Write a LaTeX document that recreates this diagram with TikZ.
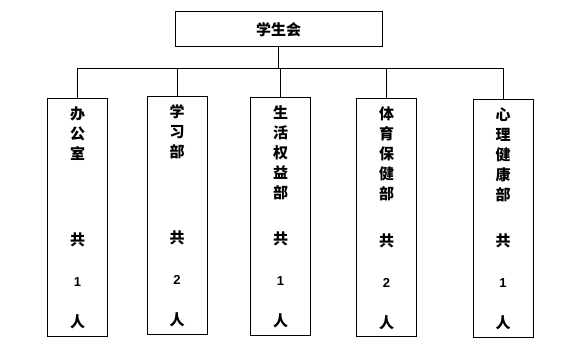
\documentclass[tikz,border=0pt]{standalone}
\usepackage{fontspec}
\newfontfamily\cjk{Noto Sans CJK SC}
\newfontfamily\numfont{Liberation Sans}
\usetikzlibrary{positioning}
\tikzset{
  head/.style={draw, line width=1pt, minimum width=207pt, minimum height=35pt, inner sep=0pt},
  dept/.style={draw, line width=1pt, minimum width=60pt, minimum height=238pt, inner sep=0pt},
  vtext/.style={align=center, inner sep=0pt},
  link/.style={line width=1pt},
}
\newcommand{\cnt}[1]{{\numfont\bfseries\fontsize{13}{20}\selectfont #1}}

\begin{document}
\begin{tikzpicture}[x=1pt, y=-1pt, every node/.append style={font=\cjk\bfseries\fontsize{15}{20}\selectfont}]
  \useasboundingbox (0,0) rectangle (580,361);
  \node[head] (su) at (278.5,29.5) {学生会};
  \node[dept] (bgs) at (77.5,217) {};
  \node[dept] (xxb) at (177,215) {};
  \node[dept] (shq) at (280.5,216) {};
  \node[dept] (tyb) at (386.5,217.5) {};
  \node[dept] (xlb) at (503,218) {};
  % names down from the top, head count up from the bottom
  \node[vtext, below=9pt of bgs.north] (bgsname) {办\\公\\室};
  \node[vtext, below=9pt of xxb.north] (xxbname) {学\\习\\部};
  \node[vtext, below=9pt of shq.north] (shqname) {生\\活\\权\\益\\部};
  \node[vtext, below=9pt of tyb.north] (tybname) {体\\育\\保\\健\\部};
  \node[vtext, below=9pt of xlb.north] (xlbname) {心\\理\\健\\康\\部};
  \node[vtext, above=7pt of bgs.south] (bgsnum) {共\\[21pt]\cnt{1}\\[21pt]人};
  \node[vtext, above=7pt of xxb.south] (xxbnum) {共\\[21pt]\cnt{2}\\[21pt]人};
  \node[vtext, above=7pt of shq.south] (shqnum) {共\\[21pt]\cnt{1}\\[21pt]人};
  \node[vtext, above=7pt of tyb.south] (tybnum) {共\\[21pt]\cnt{2}\\[21pt]人};
  \node[vtext, above=7pt of xlb.south] (xlbnum) {共\\[21pt]\cnt{1}\\[21pt]人};
  \coordinate (bus) at (0,68);
  \draw[link] (su.south) -- (su.south |- bus);
  \draw[link] (bgs.north |- bus) -- (xlb.north |- bus);
  \foreach \d in {bgs,xxb,shq,tyb,xlb}
    \draw[link] (\d.north |- bus) -- (\d.north);
\end{tikzpicture}
\end{document}
